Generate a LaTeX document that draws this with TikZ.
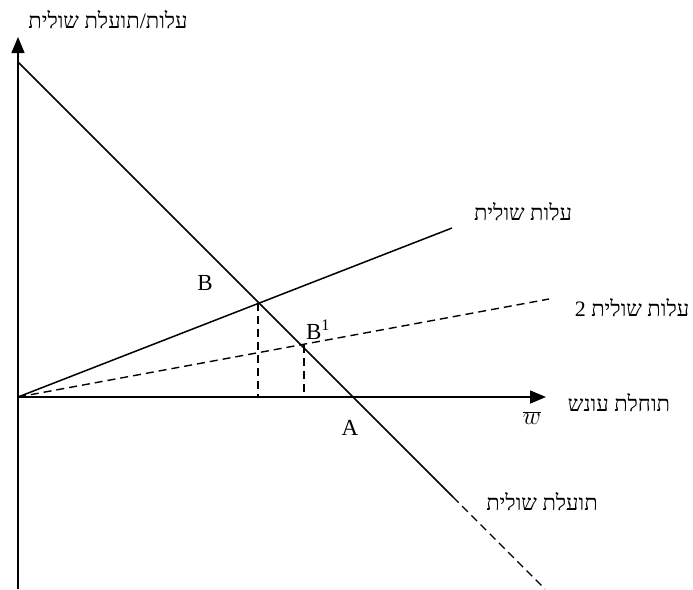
\documentclass[tikz,border=0pt]{standalone}
\usepackage{fontspec}
\setmainfont{Liberation Serif}
\newfontfamily\hebfont[Script=Hebrew]{Liberation Serif}
\TeXXeTstate=1
\usetikzlibrary{arrows.meta, positioning}

\tikzset{
    axis/.style={line width=1.5pt, -{Triangle[length=16pt, width=13pt]}},
    curve/.style={line width=1.5pt},
    guide/.style={line width=1.4pt, dash pattern=on 8pt off 5pt},
    heb/.style={font=\fontsize{22}{26}\selectfont\hebfont},
    lbl/.style={font=\fontsize{23}{27}\selectfont}
}

\begin{document}
\begin{tikzpicture}[x=1pt, y=-1pt]
    \useasboundingbox (0,0) rectangle (693,589);
    % ---- PUNTI ----
    \coordinate (O) at (18,397);
    \coordinate (ybot) at (18,589);
    \coordinate (ytop) at (18,37);
    \coordinate (xend) at (546,397);
    \coordinate (mb0) at (18,62);
    \coordinate (mbs) at (453,497);
    \coordinate (mbe) at (545,589);
    \coordinate (mc1) at (452,228);
    \coordinate (mc2) at (549,299);
    \coordinate (B) at (258,303);
    \coordinate (B1) at (304,345);
    \coordinate (Bx) at (258,397);
    \coordinate (B1x) at (304,397);

    % ---- ASSI ----
    \draw[axis] (ybot) -- (ytop);
    \draw[axis] (O) -- (xend);

    % ---- CURVE ----
    \draw[curve] (mb0) -- (mbs);
    \draw[guide] (mbs) -- (mbe);
    \draw[curve] (O) -- (mc1);
    \draw[guide] (O) -- (mc2);
    \draw[guide] (B) -- (Bx);
    \draw[guide] (B1) -- (B1x);

    % ---- ETICHETTE ----
    \node[heb] (ylab) at (108,20) {\beginR עלות/תועלת שולית\endR};
    \node[heb] (mclab) at (523,212) {\beginR עלות שולית\endR};
    \node[heb] (mc2lab) at (632,308) {\beginR עלות שולית 2\endR};
    \node[heb] (xlab) at (619,403) {\beginR תוחלת עונש\endR};
    \node[heb] (mblab) at (542,502) {\beginR תועלת שולית\endR};
    \node[lbl] (Blab) at (205,283) {B};
    \node[lbl] (B1lab) at (318,330) {B\textsuperscript{1}};
    \node[lbl] (Alab) at (350,428) {A};
    \node[font=\fontsize{28}{30}\selectfont] (wlab) at (532,418) {$\overline{w}$};
\end{tikzpicture}
\end{document}
